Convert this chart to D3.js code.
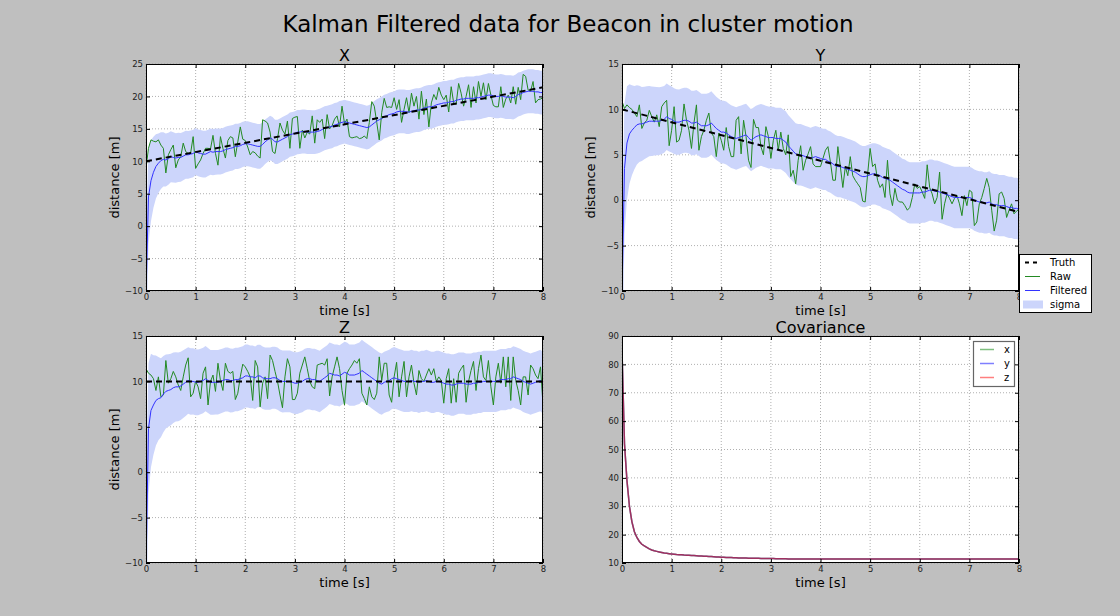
<!DOCTYPE html>
<html>
<head>
<meta charset="utf-8">
<script src="https://cdn.jsdelivr.net/npm/d3@7"></script>
<style>
  body { margin: 0; background: #bfbfbf; }
  svg { display: block; font-family: "DejaVu Sans", sans-serif; }
</style>
</head>
<body>
<svg id="chart" width="1120" height="616"></svg>
<script>
// sample grid, dt = 0.05 s
const time = d3.range(161).map(i => +(i * 0.05).toFixed(2));

// truth is a straight line: start and end
const truthT = [0, 8];
const truthX = [10, 21.4];
const truthY = [10, -1.3];
const truthZ = [10, 10];

const rawX = [
  8.9, 12.0, 13.3, 13.1, 13.0, 13.3, 12.5, 12.0, 8.2, 11.0, 11.8, 12.5, 9.0, 10.2, 10.7, 12.8, 11.5, 11.2, 11.3, 13.8,
  8.9, 9.6, 10.2, 11.2, 12.0, 12.0, 11.9, 14.0, 11.2, 9.4, 13.8, 12.0, 10.5, 13.2, 13.8, 13.6, 10.7, 13.0, 15.3, 13.4,
  13.2, 12.2, 11.0, 11.5, 11.3, 10.8, 10.5, 16.4, 16.2, 15.9, 14.5, 11.5, 11.2, 13.5, 15.9, 14.8, 14.2, 16.2, 12.0, 16.6,
  16.8, 16.9, 12.0, 14.8, 13.6, 14.5, 14.2, 17.0, 12.8, 16.4, 16.0, 16.5, 13.5, 17.2, 15.0, 15.5, 16.5, 17.0, 15.3, 18.5,
  15.8, 16.5, 13.8, 13.6, 13.7, 13.8, 13.5, 13.6, 13.9, 13.5, 16.0, 19.2, 18.5, 16.0, 13.3, 17.5, 19.7, 18.3, 18.4, 18.3,
  19.8, 18.0, 19.5, 16.0, 18.0, 19.8, 17.5, 20.5, 18.5, 20.0, 16.5, 20.8, 17.2, 19.6, 15.3, 19.0, 20.3, 19.5, 21.4, 20.2,
  19.5, 20.2, 17.6, 21.5, 19.0, 18.8, 22.0, 20.5, 18.5, 20.0, 21.8, 18.3, 21.5, 19.0, 22.3, 20.0, 22.1, 19.5, 22.0, 20.2,
  18.6, 18.4, 18.4, 21.5, 18.3, 19.6, 20.2, 19.0, 21.5, 18.8, 21.4, 19.5, 23.4, 23.1, 21.0, 20.8, 22.3, 19.0, 19.5, 19.6,
  19.8
];
const rawY = [
  10.9, 10.1, 10.5, 10.2, 10.0, 9.6, 9.2, 10.5, 7.9, 8.5, 8.8, 9.9, 9.2, 8.6, 9.4, 8.1, 10.3, 10.7, 11.0, 6.0,
  7.7, 10.3, 6.4, 6.6, 7.7, 10.6, 8.8, 7.7, 5.7, 8.5, 10.5, 5.5, 7.0, 7.7, 8.8, 9.6, 7.4, 7.0, 4.8, 7.4,
  6.6, 5.5, 8.0, 5.9, 4.8, 4.8, 8.8, 9.2, 5.1, 8.8, 7.0, 4.4, 3.6, 8.9, 8.0, 8.0, 5.9, 5.0, 8.1, 7.0,
  4.6, 6.6, 7.7, 5.5, 7.5, 5.7, 5.0, 7.2, 2.6, 3.3, 1.8, 4.4, 6.0, 3.3, 4.4, 5.1, 5.9, 4.0, 3.7, 3.7,
  3.7, 4.6, 5.5, 5.9, 4.2, 2.2, 2.2, 5.9, 3.7, 1.4, 3.7, 2.7, 4.8, 2.7, 2.2, 1.8, 1.4, -0.1, -0.2, 2.9,
  5.7, 3.7, 4.0, 2.2, 1.4, 1.8, 0.3, 4.4, 0.7, -0.6, 1.3, 0.0, -0.2, -0.2, -0.6, -1.1, -0.8, 0.3, 1.8, 1.3,
  1.5, 0.9, 0.2, 3.9, 1.4, 0.7, -0.4, 0.3, 3.1, -2.1, -0.4, 0.7, 0.2, -0.4, 0.2, 0.5, -0.4, -1.7, 0.5, -0.6,
  1.1, 0.9, -2.8, -2.4, -0.4, 0.3, 1.3, 2.4, 1.4, -1.1, -3.4, -2.2, 0.7, 0.9, 0.2, -1.9, -1.1, -0.4, -1.5, -1.2,
  -1.0
];
const rawZ = [
  11.4, 10.9, 10.7, 10.3, 9.0, 10.5, 8.3, 8.5, 12.3, 9.8, 10.3, 11.1, 10.5, 9.6, 9.0, 10.5, 11.8, 12.6, 8.3, 8.7,
  10.0, 9.4, 8.1, 10.9, 11.6, 7.4, 10.0, 10.7, 8.9, 12.0, 10.1, 9.0, 12.0, 11.1, 10.9, 11.1, 8.0, 8.7, 10.5, 11.9,
  11.6, 11.1, 10.5, 7.9, 12.3, 11.6, 7.2, 9.8, 10.5, 8.1, 12.9, 12.3, 11.1, 10.0, 8.5, 7.1, 10.5, 12.5, 11.6, 8.0,
  8.0, 8.7, 10.9, 11.8, 12.7, 11.4, 10.0, 9.4, 9.2, 11.8, 11.9, 12.0, 11.8, 12.5, 8.4, 10.5, 11.6, 12.7, 11.4, 9.0,
  7.4, 10.9, 11.4, 11.8, 12.3, 12.0, 12.5, 8.7, 8.1, 7.4, 9.4, 8.3, 8.0, 8.7, 12.7, 10.1, 12.0, 12.0, 8.5, 7.7,
  10.5, 12.1, 8.3, 10.5, 12.2, 8.3, 10.5, 11.8, 9.8, 8.5, 11.2, 10.3, 10.0, 10.7, 11.4, 10.7, 11.4, 10.0, 10.5, 10.1,
  7.6, 10.3, 11.4, 7.6, 10.3, 7.7, 10.9, 11.4, 11.8, 7.7, 10.0, 11.2, 12.2, 9.0, 11.4, 12.9, 10.5, 10.1, 12.3, 9.4,
  7.4, 10.5, 12.0, 9.8, 12.7, 9.4, 12.7, 7.9, 12.7, 10.1, 9.0, 7.4, 10.5, 10.5, 8.5, 11.8, 11.4, 10.7, 10.3, 11.6,
  7.4
];

const filtX = [
  -10.5, 4.5, 7.0, 8.3, 9.2, 9.7, 10.1, 10.3, 10.2, 10.4, 10.7, 10.6, 10.5, 10.6, 10.6, 10.8, 11.0, 11.0, 11.1, 11.2,
  11.5, 11.3, 11.2, 11.1, 11.1, 11.3, 11.5, 11.4, 11.5, 11.5, 11.5, 11.6, 11.8, 11.9, 12.0, 12.1, 12.3, 12.3, 12.4, 12.6,
  12.7, 12.7, 12.6, 12.5, 12.4, 12.3, 12.3, 12.6, 13.0, 13.3, 13.6, 13.4, 13.0, 13.0, 13.2, 13.4, 13.6, 13.8, 14.1, 14.2,
  14.3, 14.5, 14.5, 14.6, 14.6, 14.5, 14.5, 14.5, 14.5, 14.6, 14.7, 14.9, 15.1, 15.2, 15.3, 15.4, 15.6, 15.7, 15.9, 16.0,
  16.1, 16.0, 15.9, 15.8, 15.7, 15.6, 15.5, 15.4, 15.3, 15.2, 15.3, 15.6, 15.9, 16.2, 16.4, 16.6, 16.9, 17.0, 17.2, 17.3,
  17.4, 17.6, 17.7, 17.7, 17.7, 17.6, 17.6, 17.7, 17.8, 17.9, 17.9, 18.0, 18.2, 18.3, 18.4, 18.4, 18.5, 18.7, 18.8, 18.9,
  19.0, 19.0, 19.1, 19.2, 19.2, 19.4, 19.5, 19.6, 19.6, 19.7, 19.7, 19.7, 19.7, 19.8, 19.8, 19.9, 20.0, 20.1, 20.2, 20.2,
  20.1, 20.0, 20.0, 20.1, 20.0, 19.9, 19.9, 19.9, 19.8, 20.0, 20.3, 20.4, 20.6, 20.7, 20.8, 20.8, 20.8, 20.7, 20.7, 20.6,
  20.6
];
const filtY = [
  -10.5, 3.5, 6.3, 7.3, 7.7, 8.0, 8.3, 8.4, 8.4, 8.5, 8.6, 8.7, 8.7, 8.7, 8.7, 8.7, 8.8, 8.9, 9.2, 9.0,
  8.9, 8.7, 8.6, 8.6, 8.7, 8.8, 8.8, 8.7, 8.5, 8.5, 8.6, 8.4, 8.2, 8.2, 8.2, 8.3, 8.5, 8.2, 7.9, 7.7,
  7.5, 7.5, 7.4, 7.2, 7.0, 6.9, 6.8, 6.9, 7.0, 7.1, 7.2, 6.9, 6.6, 6.8, 7.0, 7.1, 7.2, 7.1, 7.0, 6.9,
  6.9, 6.9, 6.8, 6.8, 6.8, 6.6, 6.4, 6.0, 5.7, 5.4, 5.1, 5.0, 5.0, 4.9, 4.8, 4.7, 4.6, 4.7, 4.8, 4.7,
  4.6, 4.5, 4.5, 4.3, 4.2, 4.0, 3.8, 3.7, 3.7, 3.6, 3.5, 3.4, 3.3, 3.2, 3.1, 2.9, 2.7, 2.6, 2.6, 2.7,
  2.8, 2.9, 2.9, 2.8, 2.7, 2.5, 2.4, 2.3, 2.2, 2.0, 1.8, 1.6, 1.4, 1.2, 1.1, 0.9, 0.8, 0.8, 0.8, 0.8,
  0.8, 0.9, 0.9, 1.0, 1.1, 1.1, 1.0, 1.0, 0.9, 0.8, 0.7, 0.6, 0.5, 0.4, 0.3, 0.3, 0.3, 0.3, 0.3, 0.3,
  0.3, 0.2, 0.0, -0.1, -0.2, -0.2, -0.3, -0.3, -0.2, -0.4, -0.5, -0.5, -0.6, -0.6, -0.6, -0.7, -0.8, -0.8, -0.9, -0.9,
  -1.0
];
const filtZ = [
  -10.5, 4.8, 6.8, 7.4, 7.9, 8.1, 8.2, 8.6, 8.9, 9.0, 9.1, 9.3, 9.4, 9.4, 9.5, 9.7, 9.9, 10.1, 10.0, 10.0,
  9.9, 9.9, 10.0, 10.1, 10.3, 10.1, 9.9, 9.9, 9.9, 9.9, 10.0, 10.1, 10.2, 10.2, 10.1, 10.1, 10.2, 10.2, 10.3, 10.4,
  10.6, 10.6, 10.5, 10.5, 10.4, 10.6, 10.6, 10.4, 10.3, 10.3, 10.3, 10.4, 10.4, 10.3, 10.1, 10.0, 10.0, 10.0, 10.0, 9.9,
  9.8, 9.8, 9.9, 10.0, 10.2, 10.3, 10.3, 10.2, 10.2, 10.1, 10.0, 10.2, 10.4, 10.6, 10.9, 10.8, 10.7, 10.7, 10.6, 10.8,
  11.0, 10.9, 10.7, 10.7, 10.7, 10.8, 10.9, 11.2, 11.0, 10.8, 10.6, 10.4, 10.2, 10.0, 9.8, 9.7, 9.9, 10.0, 10.1, 10.3,
  10.4, 10.3, 10.2, 10.1, 10.0, 10.0, 10.0, 10.1, 10.0, 10.0, 9.9, 10.0, 10.0, 10.1, 10.0, 9.9, 9.9, 10.0, 10.0, 9.9,
  9.8, 9.7, 9.7, 9.6, 9.6, 9.7, 9.8, 9.8, 9.8, 9.7, 9.7, 9.7, 9.8, 9.8, 9.9, 9.9, 10.0, 10.0, 10.0, 10.0,
  10.0, 10.0, 10.1, 10.2, 10.2, 10.2, 10.3, 10.3, 10.5, 10.4, 10.3, 10.2, 10.0, 9.9, 9.8, 9.7, 9.8, 9.9, 10.0, 10.1,
  9.8
];

// covariance (same for x, y, z)
const cov = [
  85, 52, 39, 30, 24.5, 21, 19, 17.6, 16.6, 16, 15.5, 15, 14.6, 14.3, 14.1, 13.9, 13.7, 13.5, 13.4, 13.3,
  13.2, 13.1, 13.0, 12.95, 12.9, 12.8, 12.75, 12.7, 12.65, 12.6, 12.55, 12.5, 12.45, 12.4, 12.35, 12.3, 12.25, 12.2, 12.15, 12.1,
  12.05, 12.0, 11.95, 11.9, 11.9, 11.85, 11.85, 11.8, 11.8, 11.75, 11.75, 11.7, 11.7, 11.7, 11.65, 11.65, 11.6, 11.6, 11.6, 11.6,
  11.55, 11.55, 11.5, 11.5, 11.5, 11.5, 11.5, 11.45, 11.45, 11.45, 11.45, 11.45, 11.45, 11.4, 11.4, 11.4, 11.4, 11.4, 11.4, 11.4,
  11.4, 11.4, 11.4, 11.4, 11.4, 11.4, 11.4, 11.4, 11.4, 11.4, 11.4, 11.4, 11.4, 11.4, 11.4, 11.4, 11.4, 11.4, 11.4, 11.4,
  11.4, 11.4, 11.4, 11.4, 11.4, 11.4, 11.4, 11.4, 11.4, 11.4, 11.4, 11.4, 11.4, 11.4, 11.4, 11.4, 11.4, 11.4, 11.4, 11.4,
  11.4, 11.4, 11.4, 11.4, 11.4, 11.4, 11.4, 11.4, 11.4, 11.4, 11.4, 11.4, 11.4, 11.4, 11.4, 11.4, 11.4, 11.4, 11.4, 11.4,
  11.4, 11.4, 11.4, 11.4, 11.4, 11.4, 11.4, 11.4, 11.4, 11.4, 11.4, 11.4, 11.4, 11.4, 11.4, 11.4, 11.4, 11.4, 11.4, 11.4,
  11.4
];

const timeTicks = [0, 1, 2, 3, 4, 5, 6, 7, 8];
const distTicksX = [-10, -5, 0, 5, 10, 15, 20, 25];
const distTicksYZ = [-10, -5, 0, 5, 10, 15];
const covTicks = [10, 20, 30, 40, 50, 60, 70, 80, 90];

const legendLabels = ["Truth", "Raw", "Filtered", "sigma"];
const covLabels = ["x", "y", "z"];

const rawColor = "#238a23";
const filtColor = "#3333ff";
const bandColor = "#ccd5fb";

const W = 397, H = 227;
const svg = d3.select("#chart");

svg.append("text")
  .attr("x", 568).attr("y", 32)
  .attr("text-anchor", "middle")
  .attr("font-size", 23)
  .text("Kalman Filtered data for Beacon in cluster motion");

let clipCount = 0;

function makeFrame(left, top, domain, ticks, title, ylabel) {
  const x = d3.scaleLinear().domain([0, 8]).range([left, left + W]);
  const y = d3.scaleLinear().domain(domain).range([top + H, top]);
  const g = svg.append("g");

  g.append("rect")
    .attr("x", left).attr("y", top).attr("width", W).attr("height", H)
    .attr("fill", "white");

  // dotted grid
  const grid = g.append("g").attr("stroke", "#9a9a9a").attr("stroke-width", 0.8)
    .attr("stroke-dasharray", "1,2");
  grid.selectAll(".gx").data(timeTicks).join("line")
    .attr("x1", d => x(d)).attr("x2", d => x(d))
    .attr("y1", top).attr("y2", top + H);
  grid.selectAll(".gy").data(ticks).join("line")
    .attr("x1", left).attr("x2", left + W)
    .attr("y1", d => y(d)).attr("y2", d => y(d));

  const id = "clip" + (clipCount++);
  svg.append("clipPath").attr("id", id)
    .append("rect").attr("x", left).attr("y", top).attr("width", W).attr("height", H);
  const plot = g.append("g").attr("clip-path", `url(#${id})`);

  // title and labels
  g.append("text").attr("x", left + W / 2).attr("y", top - 3.5)
    .attr("text-anchor", "middle").attr("font-size", 16).text(title);
  g.append("text").attr("x", left + W / 2).attr("y", top + H + 24)
    .attr("text-anchor", "middle").attr("font-size", 13).text("time [s]");
  if (ylabel) {
    g.append("text")
      .attr("transform", `translate(${left - 27},${top + H / 2}) rotate(-90)`)
      .attr("text-anchor", "middle").attr("font-size", 13).text(ylabel);
  }

  return { x, y, g, plot };
}

function finishFrame(f, ticks) {
  const { x, y, g } = f;
  const styleAxis = sel => {
    sel.select(".domain").remove();
    sel.selectAll("text").attr("font-size", 8.5).attr("fill", "#222")
      .attr("font-family", "DejaVu Sans, sans-serif");
    sel.selectAll("line").attr("stroke", "#000");
  };
  const [x0, x1] = x.range();
  const [y1, y0] = y.range();
  g.append("g").attr("transform", `translate(0,${y1})`)
    .call(d3.axisBottom(x).tickValues(timeTicks).tickSize(-4).tickPadding(3).tickFormat(d3.format("d")))
    .call(styleAxis);
  g.append("g").attr("transform", `translate(0,${y0})`)
    .call(d3.axisTop(x).tickValues(timeTicks).tickSize(-4).tickFormat(""))
    .call(styleAxis);
  g.append("g").attr("transform", `translate(${x0},0)`)
    .call(d3.axisLeft(y).tickValues(ticks).tickSize(-4).tickPadding(3).tickFormat(d3.format("d")))
    .call(styleAxis);
  g.append("g").attr("transform", `translate(${x1},0)`)
    .call(d3.axisRight(y).tickValues(ticks).tickSize(-4).tickFormat(""))
    .call(styleAxis);
  g.append("rect")
    .attr("x", x0 + 0.5).attr("y", y0 + 0.5).attr("width", W - 1).attr("height", H - 1)
    .attr("fill", "none").attr("stroke", "#000").attr("stroke-width", 1)
    .attr("shape-rendering", "crispEdges");
}

const panels = [
  { title: "X", left: 146, top: 64, raw: rawX, filt: filtX, truth: truthX, domain: [-10, 25], ticks: distTicksX },
  { title: "Y", left: 622, top: 64, raw: rawY, filt: filtY, truth: truthY, domain: [-10, 15], ticks: distTicksYZ },
  { title: "Z", left: 146, top: 336, raw: rawZ, filt: filtZ, truth: truthZ, domain: [-10, 15], ticks: distTicksYZ }
];

panels.forEach(p => {
  const f = makeFrame(p.left, p.top, p.domain, p.ticks, p.title, "distance [m]");
  const { x, y, plot } = f;

  const band = d3.area()
    .x((d, i) => x(time[i]))
    .y0((d, i) => y(d - Math.sqrt(cov[i])))
    .y1((d, i) => y(d + Math.sqrt(cov[i])));
  plot.append("path").datum(p.filt).attr("d", band).attr("fill", bandColor);

  const line = d3.line().x((d, i) => x(time[i])).y(d => y(d));
  plot.append("path").datum(p.raw).attr("d", line)
    .attr("fill", "none").attr("stroke", rawColor).attr("stroke-width", 1);
  plot.append("path").datum(p.filt).attr("d", line)
    .attr("fill", "none").attr("stroke", filtColor).attr("stroke-width", 1);

  const tline = d3.line().x((d, i) => x(truthT[i])).y(d => y(d));
  plot.append("path").datum(p.truth).attr("d", tline)
    .attr("fill", "none").attr("stroke", "#000").attr("stroke-width", 2)
    .attr("stroke-dasharray", "6,4");

  finishFrame(f, p.ticks);
});

// covariance panel
{
  const f = makeFrame(622, 336, [10, 90], covTicks, "Covariance", null);
  const { x, y, plot } = f;
  const line = d3.line().x((d, i) => x(time[i])).y(d => y(d));
  const covColors = ["#008000", "#0000ff", "#ff0000"];
  covColors.forEach(c => {
    plot.append("path").datum(cov).attr("d", line)
      .attr("fill", "none").attr("stroke", c).attr("stroke-width", 1.5)
      .attr("stroke-opacity", 0.5);
  });
  finishFrame(f, covTicks);

  const lg = svg.append("g").attr("transform", "translate(973,341)");
  lg.append("rect").attr("x", 0.5).attr("y", 0.5).attr("width", 41).attr("height", 45)
    .attr("fill", "white").attr("stroke", "#666").attr("stroke-width", 1.2);
  covLabels.forEach((lab, i) => {
    const yy = 8.5 + i * 14;
    lg.append("line").attr("x1", 7).attr("x2", 21).attr("y1", yy).attr("y2", yy)
      .attr("stroke", covColors[i]).attr("stroke-opacity", 0.5).attr("stroke-width", 1.5);
    lg.append("text").attr("x", 31).attr("y", yy + 3.5).attr("font-size", 10).text(lab);
  });
}

// legend of the Y panel
{
  const lg = svg.append("g").attr("transform", "translate(1019,254)");
  lg.append("rect").attr("x", 0.5).attr("y", 0.5).attr("width", 72).attr("height", 58)
    .attr("fill", "white").attr("stroke", "#000").attr("stroke-width", 1);
  legendLabels.forEach((lab, i) => {
    const yy = 8.5 + i * 14;
    if (i === 0) {
      lg.append("line").attr("x1", 6).attr("x2", 21).attr("y1", yy).attr("y2", yy)
        .attr("stroke", "#000").attr("stroke-width", 2).attr("stroke-dasharray", "4,4");
    } else if (i === 1 || i === 2) {
      lg.append("line").attr("x1", 6).attr("x2", 21).attr("y1", yy).attr("y2", yy)
        .attr("stroke", i === 1 ? rawColor : filtColor).attr("stroke-width", 1);
    } else {
      lg.append("rect").attr("x", 4).attr("y", yy - 4).attr("width", 20).attr("height", 8)
        .attr("fill", bandColor);
    }
    lg.append("text").attr("x", 31).attr("y", yy + 3.5).attr("font-size", 10).text(lab);
  });
}
</script>
</body>
</html>
